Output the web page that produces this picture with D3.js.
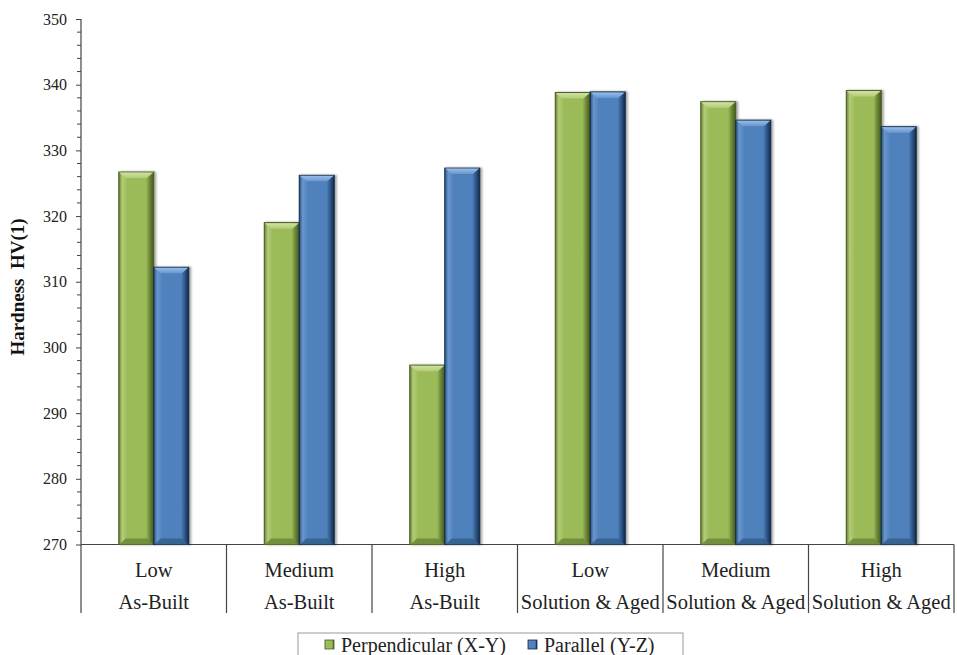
<!DOCTYPE html>
<html><head><meta charset="utf-8">
<script src="https://cdn.jsdelivr.net/npm/d3@7"></script>
<style>body{margin:0;background:#fff}svg{display:block}</style>
</head><body>
<svg id="c" width="957" height="655"></svg>
<script>
const categoriesTop = ["Low","Medium","High","Low","Medium","High"];
const categoriesBottom = ["As-Built","As-Built","As-Built","Solution & Aged","Solution & Aged","Solution & Aged"];
const seriesNames = ["Perpendicular (X-Y)","Parallel (Y-Z)"];
const perpendicular = [326.7, 319.0, 297.3, 338.8, 337.4, 339.1];
const parallel = [312.2, 326.2, 327.3, 338.9, 334.6, 333.6];
const yTicks = [270,280,290,300,310,320,330,340,350];

const FONT = "'Liberation Serif', 'Times New Roman', Times, 'DejaVu Serif', serif";
const svg = d3.select("#c");
const pLeft = 81, pRight = 954, pTop = 19, pBottom = 544.5;
const y = d3.scaleLinear().domain([270,350]).range([pBottom, pTop]);
const x = d3.scaleBand().domain(d3.range(6)).range([pLeft, pRight]).paddingInner(0).paddingOuter(0);
const sub = d3.scaleBand().domain([0,1]).range([x.bandwidth()/2 - 35, x.bandwidth()/2 + 35]).padding(0);

const palettes = [
  {base:"#9bbb59", light:"#b3cc78", top:"#cfe2a0", dark:"#667f33", edge:"#465a20", bot:"#6f8a3b"},
  {base:"#4f81bd", light:"#6a96cc", top:"#96bdeb", dark:"#2b5282", edge:"#132a47", bot:"#35608f"}
];
const defs = svg.append("defs");
palettes.forEach((p,i)=>{
  const g = defs.append("linearGradient").attr("id","g"+i).attr("x1","0").attr("x2","1").attr("y1","0").attr("y2","0");
  [[0,p.dark],[0.1,p.light],[0.25,p.base],[0.78,p.base],[0.9,p.dark],[1,p.edge]].forEach(s=>g.append("stop").attr("offset",s[0]).attr("stop-color",s[1]));
  const t = defs.append("linearGradient").attr("id","t"+i).attr("x1","0").attr("x2","0").attr("y1","0").attr("y2","1");
  [[0,p.top],[1,p.light]].forEach(s=>t.append("stop").attr("offset",s[0]).attr("stop-color",s[1]));
});
const f = defs.append("filter").attr("id","sh").attr("x","-20%").attr("y","-5%").attr("width","150%").attr("height","110%");
f.append("feDropShadow").attr("dx",2).attr("dy",0).attr("stdDeviation",1.2).attr("flood-color","#000").attr("flood-opacity",0.35);

// Y axis
const yAxis = d3.axisLeft(y).tickValues(yTicks).tickSize(5).tickSizeOuter(0).tickPadding(9).tickFormat(d3.format("d"));
const ya = svg.append("g").attr("transform",`translate(${pLeft},0)`).call(yAxis);
ya.attr("font-family", null).attr("font-size", null);
ya.select(".domain").remove();
ya.selectAll("text").style("font-family",FONT).style("font-size","16px").attr("fill","#222");
ya.selectAll("line").attr("stroke","#444");
const minor = d3.range(270,350,2).filter(v=>v%10!==0);
svg.append("g").selectAll("line").data(minor).join("line")
  .attr("x1",pLeft-4).attr("x2",pLeft).attr("y1",d=>y(d)).attr("y2",d=>y(d)).attr("stroke","#444");
svg.append("line").attr("x1",pLeft).attr("x2",pLeft).attr("y1",pTop).attr("y2",613).attr("stroke","#444").attr("stroke-width",1.2);

// X axis baseline and dividers
svg.append("line").attr("x1",pLeft).attr("x2",pRight).attr("y1",pBottom).attr("y2",pBottom).attr("stroke","#444").attr("stroke-width",1.2);
svg.append("g").selectAll("line").data(d3.range(1,7)).join("line")
  .attr("x1",d=>x(0)+d*x.bandwidth()).attr("x2",d=>x(0)+d*x.bandwidth())
  .attr("y1",pBottom).attr("y2",613).attr("stroke","#444").attr("stroke-width",1.2);
svg.append("g").selectAll("text").data(categoriesTop).join("text")
  .attr("x",(d,i)=>x(i)+x.bandwidth()/2).attr("y",577).attr("text-anchor","middle")
  .style("font-family",FONT).style("font-size","20.5px").attr("fill","#222").text(d=>d);
svg.append("g").selectAll("text").data(categoriesBottom).join("text")
  .attr("x",(d,i)=>x(i)+x.bandwidth()/2).attr("y",609).attr("text-anchor","middle")
  .style("font-family",FONT).style("font-size","20.5px").attr("fill","#222").text(d=>d);

// Y title
svg.append("text").attr("transform",`translate(24,287) rotate(-90)`).attr("text-anchor","middle")
  .style("font-family",FONT).style("white-space","pre")
  .style("font-size","19px").style("font-weight","bold").attr("fill","#111").text("Hardness  HV(1)");

// Bars
const data = [perpendicular, parallel];
data.forEach((vals,si)=>{
  const p = palettes[si];
  const gs = svg.append("g").selectAll("g").data(vals).join("g")
    .attr("transform",(d,i)=>`translate(${x(i)+sub(si)},0)`);
  const w = sub.bandwidth();
  const b = 6;
  gs.append("rect").attr("x",0).attr("width",w).attr("y",d=>y(d)).attr("height",d=>pBottom-y(d))
    .attr("fill",`url(#g${si})`).attr("stroke",p.edge).attr("stroke-width",1).attr("filter","url(#sh)");
  gs.append("path").attr("d",d=>{const t=y(d);return `M0.5,${t+0.5}L${w-0.5},${t+0.5}L${w-b-1},${t+b}L${b+1},${t+b}Z`;})
    .attr("fill",`url(#t${si})`);
  gs.append("path").attr("d",d=>`M0.5,${pBottom}L${w-0.5},${pBottom}L${w-b-1},${pBottom-b}L${b+1},${pBottom-b}Z`)
    .attr("fill",p.bot).attr("opacity",0.9);
});

// Legend
const lg = svg.append("g");
lg.append("rect").attr("x",298).attr("y",633).attr("width",385).attr("height",40).attr("fill","#fff").attr("stroke","#999");
const lx = [325, 528];
seriesNames.forEach((n,i)=>{
  const p = palettes[i];
  lg.append("rect").attr("x",lx[i]).attr("y",640).attr("width",9).attr("height",9).attr("fill",`url(#g${i})`).attr("stroke",p.edge).attr("stroke-width",0.8);
  lg.append("text").attr("x",lx[i]+16).attr("y",652).style("font-family",FONT).style("font-size","20px").attr("fill","#222").text(n);
});
</script>
</body></html>
